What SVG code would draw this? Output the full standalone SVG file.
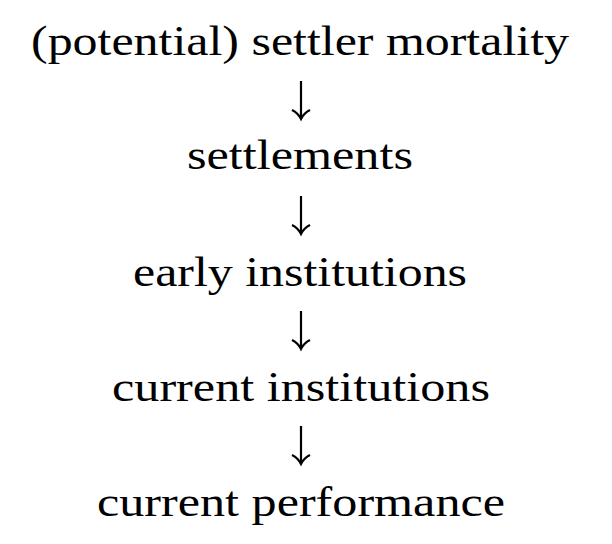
<svg xmlns="http://www.w3.org/2000/svg" width="612" height="544" viewBox="0 0 612 544">
<style>
text{font-family:"Liberation Serif","DejaVu Serif",serif;font-size:43px;fill:#000;text-anchor:middle}
.c path{stroke:#000;stroke-width:2.2;fill:none}
</style>
<rect width="612" height="544" fill="#fff"/>
<g id="n1"><text x="300" y="55" textLength="538" lengthAdjust="spacingAndGlyphs">(potential) settler mortality</text></g>
<g id="n2"><text x="300" y="169" textLength="226" lengthAdjust="spacingAndGlyphs">settlements</text></g>
<g id="n3"><text x="300" y="286" textLength="334" lengthAdjust="spacingAndGlyphs">early institutions</text></g>
<g id="n4"><text x="301" y="401" textLength="378" lengthAdjust="spacingAndGlyphs">current institutions</text></g>
<g id="n5"><text x="301" y="516" textLength="408" lengthAdjust="spacingAndGlyphs">current performance</text></g>
<g class="c" id="connectors">
<path d="M301 81V119M292 110Q298 113 301 119Q304 113 310 110"/>
<path d="M301 196V234M292 225Q298 228 301 234Q304 228 310 225"/>
<path d="M301 311V349M292 340Q298 343 301 349Q304 343 310 340"/>
<path d="M301 426V464M292 455Q298 458 301 464Q304 458 310 455"/>
</g>
</svg>
